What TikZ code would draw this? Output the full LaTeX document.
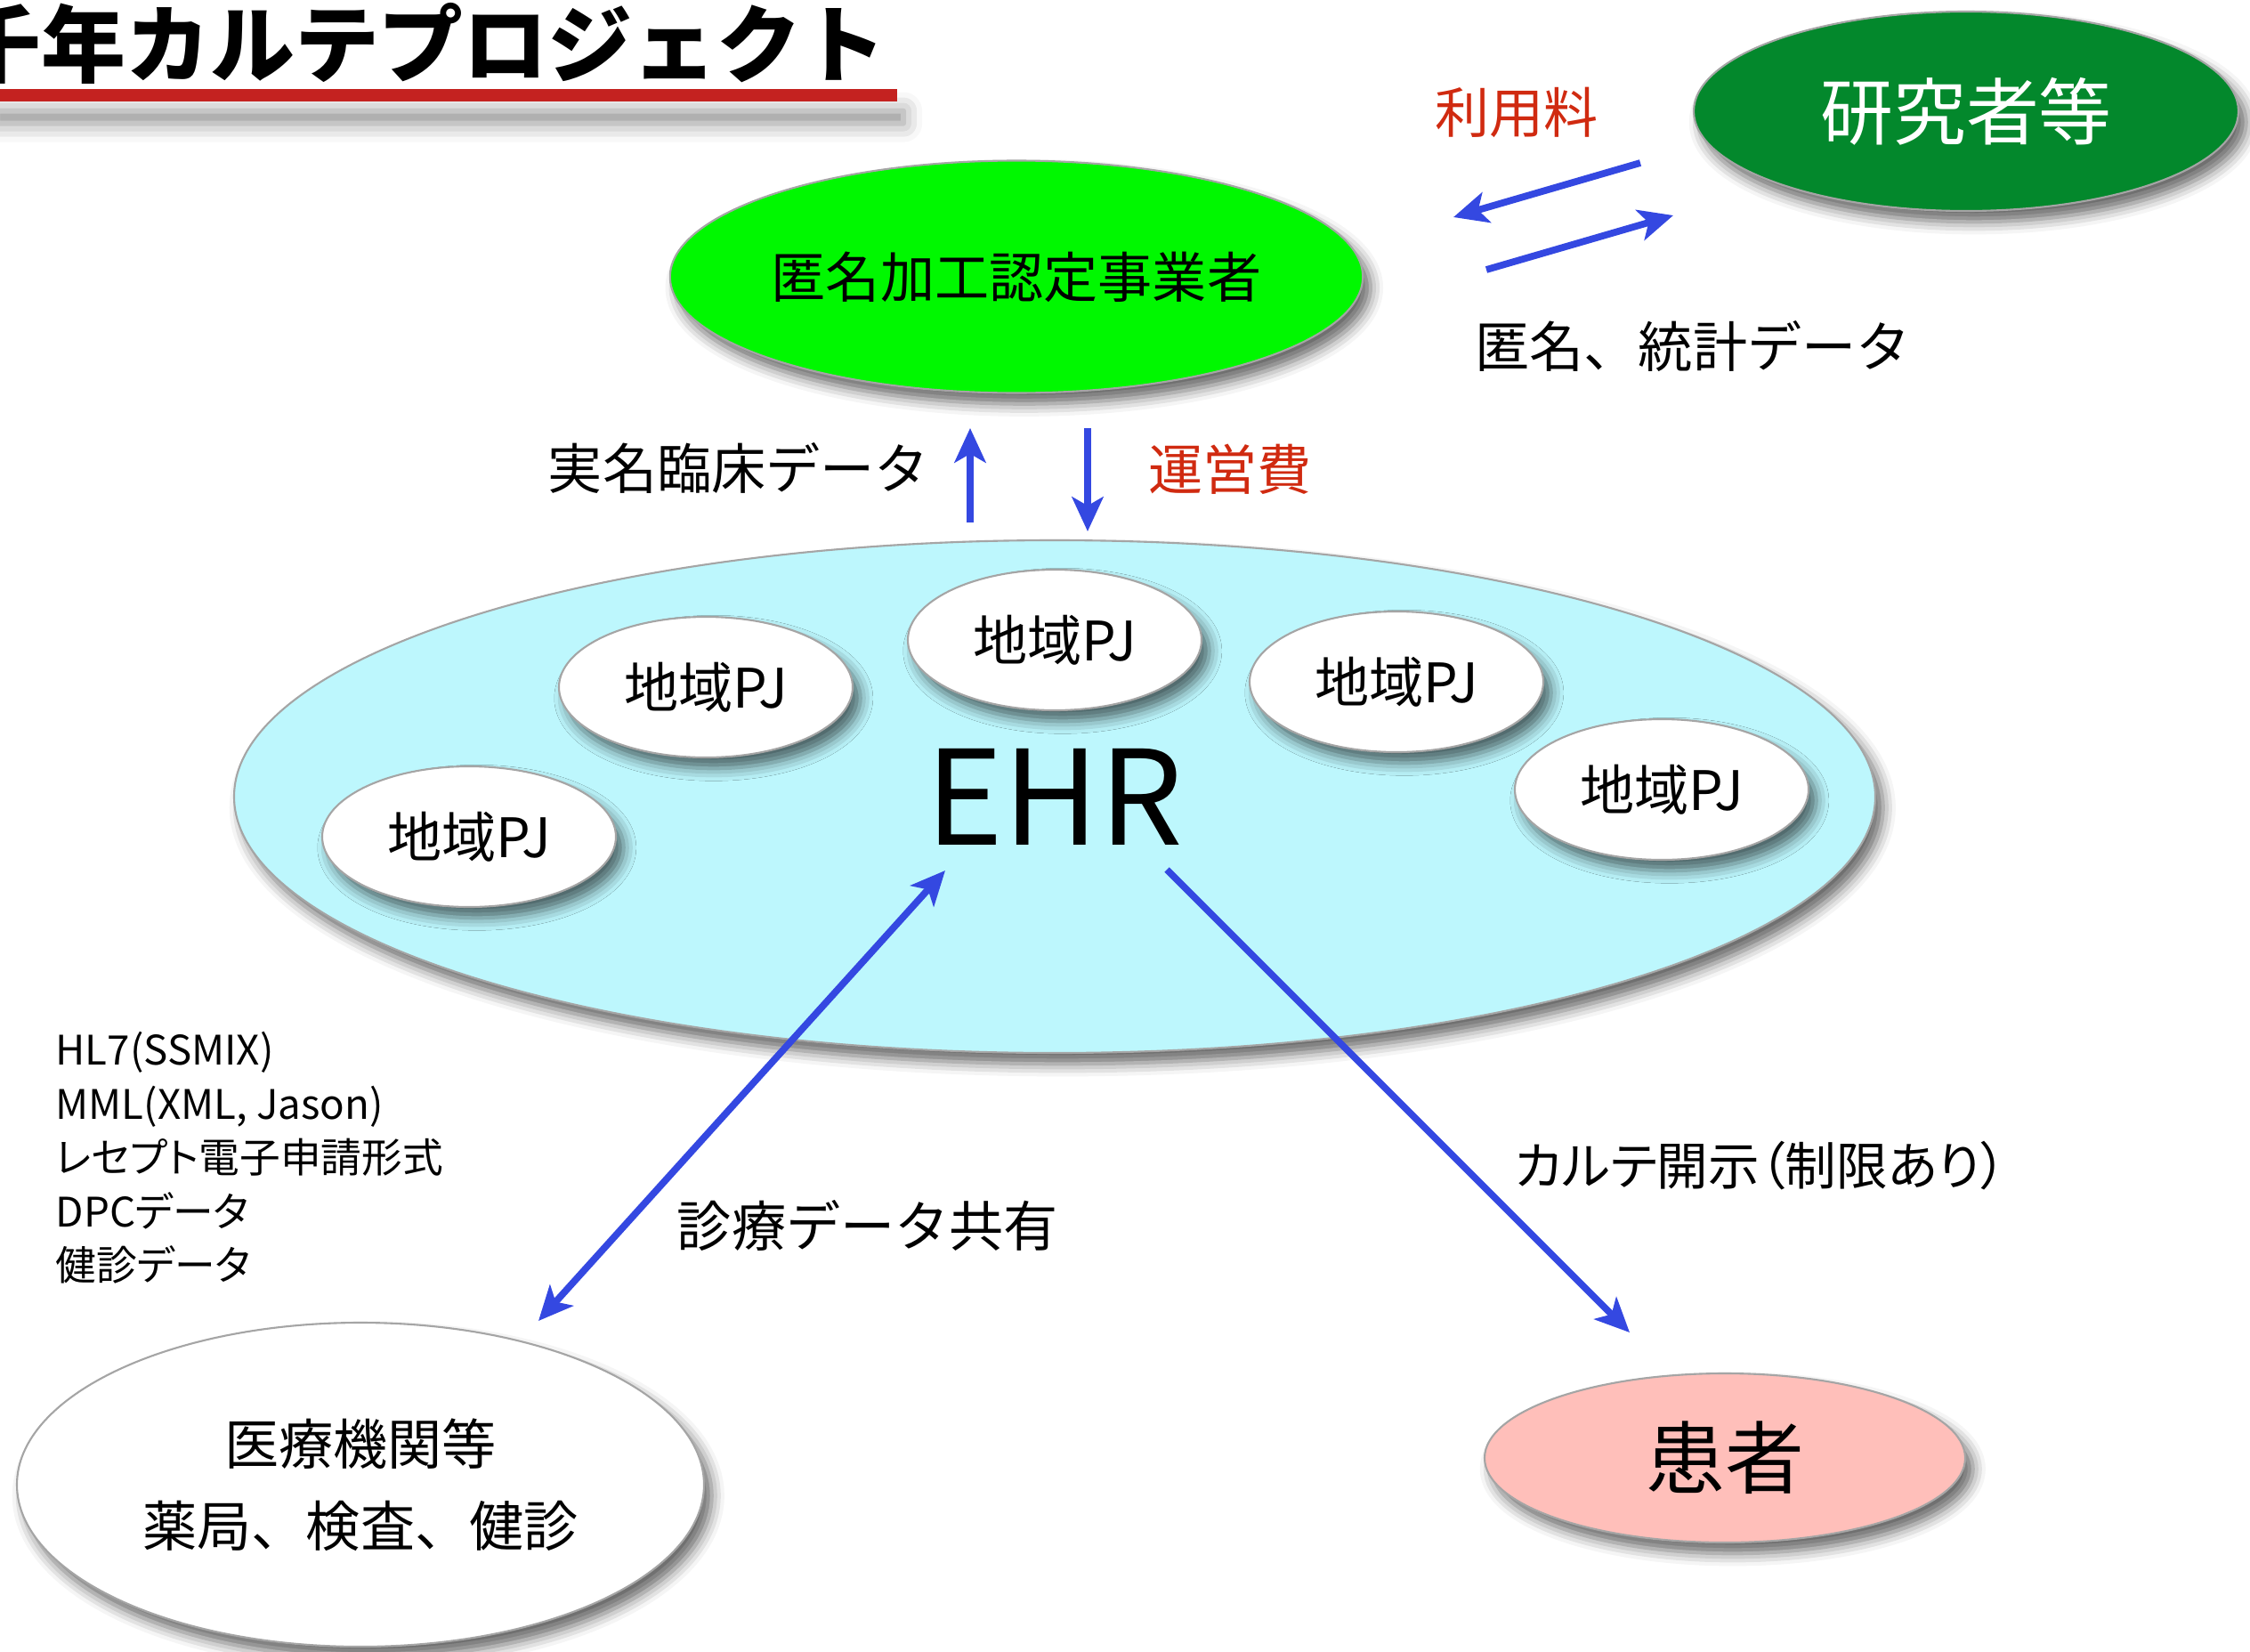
\documentclass[tikz,border=0pt]{standalone}
\usepackage{fontspec}
\setmainfont{Noto Sans CJK JP}
\usepackage{tikz}
\usetikzlibrary{shapes.geometric}
\usetikzlibrary{arrows.meta}
\usetikzlibrary{shadows.blur}
\definecolor{anongreen}{RGB}{0,248,0}
\definecolor{resgreen}{RGB}{3,136,44}
\definecolor{ehrcyan}{RGB}{189,247,253}
\definecolor{patpink}{RGB}{255,191,186}
\definecolor{arrowblue}{RGB}{52,72,225}
\definecolor{feered}{RGB}{208,42,16}
\definecolor{barred}{RGB}{196,34,32}
\definecolor{rimgray}{RGB}{165,165,165}
\def\lbl{\fontsize{17.4}{22}\selectfont}% label size

\begin{document}
\begin{tikzpicture}[
	oval/.style={ellipse,draw=rimgray,line width=0.6pt,inner sep=0pt,
		blur shadow={shadow xshift=2.5pt,shadow yshift=-3.5pt,shadow blur radius=4pt,shadow opacity=60}},
	pj/.style={oval,fill=white,minimum width=3.3cm,minimum height=1.58cm,font=\lbl},
	txt/.style={inner sep=0pt,font=\lbl},
	>={Stealth[length=11pt,width=10pt,inset=2.8pt]},
	flow/.style={draw=arrowblue,line width=2.2pt,->}]
	\useasboundingbox (0,0) rectangle (25.28,-18.56);
	
	%title
	\fill[barred,blur shadow={shadow xshift=2pt,shadow yshift=-7pt,shadow blur radius=6pt,shadow opacity=45}] (-0.1,-1.00) rectangle (10.08,-1.14);
	\node[anchor=east,inner sep=0pt,font=\fontsize{27}{30}\selectfont\bfseries] (title) at (9.96,-0.49) {千年カルテプロジェクト};
	
	%upper right
	\node[oval,fill=resgreen,minimum width=6.12cm,minimum height=2.24cm,text=white,font=\fontsize{23.3}{26}\selectfont] (research) at (22.09,-1.25) {研究者等};
	\node[txt,text=feered] (fee) at (17.04,-1.26) {利用料};
	\node[txt] (stat) at (19.02,-3.89) {匿名、統計データ};
	\coordinate (feeS) at (18.43,-1.83);
	\coordinate (feeE) at (16.33,-2.44);
	\coordinate (statS) at (16.70,-3.03);
	\coordinate (statE) at (18.80,-2.42);
	\draw[flow] (feeS) -- (feeE);
	\draw[flow] (statS) -- (statE);
	
	%upper center
	\node[oval,fill=anongreen,minimum width=7.78cm,minimum height=2.61cm,font=\lbl] (anon) at (11.42,-3.11) {匿名加工認定事業者};
	\node[txt] (real) at (8.30,-5.26) {実名臨床データ};
	\node[txt,text=feered] (opcost) at (13.82,-5.27) {運営費};
	\coordinate (realS) at (10.90,-5.87);
	\coordinate (realE) at (10.90,-4.81);
	\coordinate (costS) at (12.22,-4.81);
	\coordinate (costE) at (12.22,-5.97);
	\draw[flow] (realS) -- (realE);
	\draw[flow] (costS) -- (costE);
	
	%EHR with regional projects
	\node[oval,fill=ehrcyan,minimum width=18.44cm,minimum height=5.76cm,font=\fontsize{42}{46}\selectfont] (ehr) at (11.85,-8.95) {EHR};
	\node[pj] (pja) at (7.93,-7.72) {地域PJ};
	\node[pj] (pjb) at (11.85,-7.19) {地域PJ};
	\node[pj] (pjc) at (15.69,-7.66) {地域PJ};
	\node[pj] (pjd) at (18.67,-8.87) {地域PJ};
	\node[pj] (pje) at (5.27,-9.40) {地域PJ};
	
	%lower left
	\node[txt,anchor=west,align=left,font=\fontsize{13}{17.2}\selectfont\addfontfeature{RawFeature=+palt}] (formats) at (0.62,-13.01) {HL7(SSMIX)\\MML(XML, Jason)\\レセプト電子申請形式\\DPCデータ\\健診データ};
	\node[oval,fill=white,minimum width=7.72cm,minimum height=3.64cm,align=center,font=\fontsize{17.4}{26.2}\selectfont] (med) at (4.05,-16.68) {医療機関等\\薬局、検査、健診};
	\node[txt] (share) at (9.75,-13.77) {診療データ共有};
	\coordinate (shareA) at (10.62,-9.78);
	\coordinate (shareB) at (6.05,-14.84);
	\draw[flow,<->] (shareA) -- (shareB);
	
	%lower right
	\node[oval,fill=patpink,minimum width=5.4cm,minimum height=1.9cm,font=\fontsize{25.3}{28}\selectfont] (patient) at (19.38,-16.38) {患者};
	\node[txt,font=\fontsize{16.4}{20}\selectfont] (disclose) at (19.78,-13.10) {\addfontfeature{RawFeature=+palt}カルテ開示（制限あり）};
	\coordinate (openS) at (13.11,-9.77);
	\coordinate (openE) at (18.31,-14.97);
	\draw[flow] (openS) -- (openE);
\end{tikzpicture}
\end{document}
